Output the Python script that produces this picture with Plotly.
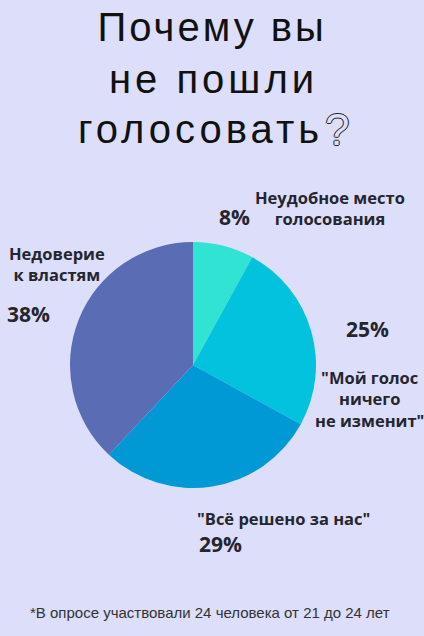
import json
import plotly.graph_objects as go

# ---- data ----
categories = ["Неудобное место<br>голосования",
              "\"Мой голос<br>ничего<br>не изменит\"",
              "\"Всё решено за нас\"",
              "Недоверие<br>к властям"]
values = [8, 25, 29, 38]
title_lines = ["Почему вы", "не пошли", "голосовать"]
footnote = "*В опросе участвовали 24 человека от 21 до 24 лет"

# ---- styling ----
colors = ["#31e3d2", "#02c2de", "#0099d6", "#5a6cb4"]
bg = "#dcdefa"
W, H = 424, 636
cx, cy, r = 193, 365, 123

# label positions (pixels from top-left)
cat_pos = [(330, 208), (369, 399), (283, 518), (57, 264)]
pct_pos = [(235, 217), (367, 329), (220, 544), (28, 314)]
title_pos = [(212, 27), (213, 79), (200, 129)]
title_spacing = ["3px", "4px", "4px"]

fig = go.Figure(go.Pie(
    labels=[c.replace("<br>", " ") for c in categories],
    values=values,
    sort=False,
    direction="clockwise",
    rotation=0,
    marker=dict(colors=colors, line=dict(width=0)),
    textinfo="none",
    hoverinfo="label+percent",
    showlegend=False,
    domain=dict(x=[(cx - r) / W, (cx + r) / W],
                y=[(H - cy - r) / H, (H - cy + r) / H]),
))

def px(x, y):
    return x / W, 1 - y / H

ann = []
lab_font = dict(family="Open Sans", size=16.5, color="#25252e", weight="bold")
pct_font = dict(family="Open Sans", size=21, color="#25252e", weight="bold")
for c, (x, y) in zip(categories, cat_pos):
    ax, ay = px(x, y)
    ann.append(dict(text=c, x=ax, y=ay, xref="paper", yref="paper",
                    showarrow=False, xanchor="center", yanchor="middle",
                    font=lab_font, align="center"))
total = sum(values)
for v, (x, y) in zip(values, pct_pos):
    ax, ay = px(x, y)
    ann.append(dict(text=f"{round(100 * v / total)}%", x=ax, y=ay,
                    xref="paper", yref="paper", showarrow=False,
                    xanchor="center", yanchor="middle", font=pct_font))

# title
for t, (x, y) in zip(title_lines, title_pos):
    ax, ay = px(x, y)
    ann.append(dict(text=t, x=ax, y=ay, xref="paper", yref="paper",
                    showarrow=False, xanchor="center", yanchor="middle",
                    font=dict(family="Liberation Sans", size=40, color="#111111")))
qx, qy = px(337, 129)
ann.append(dict(text="?", x=qx, y=qy, xref="paper", yref="paper",
                showarrow=False, xanchor="center", yanchor="middle",
                font=dict(family="Liberation Sans", size=44, color=bg,
                          shadow="1px 0 0 #222, -1px 0 0 #222, 0 1px 0 #222, 0 -1px 0 #222")))

fx, fy = px(210, 612)
ann.append(dict(text=footnote, x=fx, y=fy, xref="paper", yref="paper",
                showarrow=False, xanchor="center", yanchor="middle",
                font=dict(family="Liberation Sans", size=15, color="#333333")))

fig.update_layout(
    width=W, height=H,
    margin=dict(l=0, r=0, t=0, b=0),
    paper_bgcolor=bg, plot_bgcolor=bg,
    annotations=ann,
)

post = (
    "document.body.style.margin='0';"
    "document.body.style.overflow='hidden';"
    "var gd=document.getElementById('{plot_id}');"
    "var tl=" + json.dumps(title_lines) + ";"
    "var ts=" + json.dumps(title_spacing) + ";"
    "gd.querySelectorAll('text.annotation-text').forEach(function(t){"
    "var i=tl.indexOf(t.textContent);if(i>=0){t.style.letterSpacing=ts[i];}});"
)

fig.write_html("out.html", config={"displayModeBar": False}, post_script=post)
